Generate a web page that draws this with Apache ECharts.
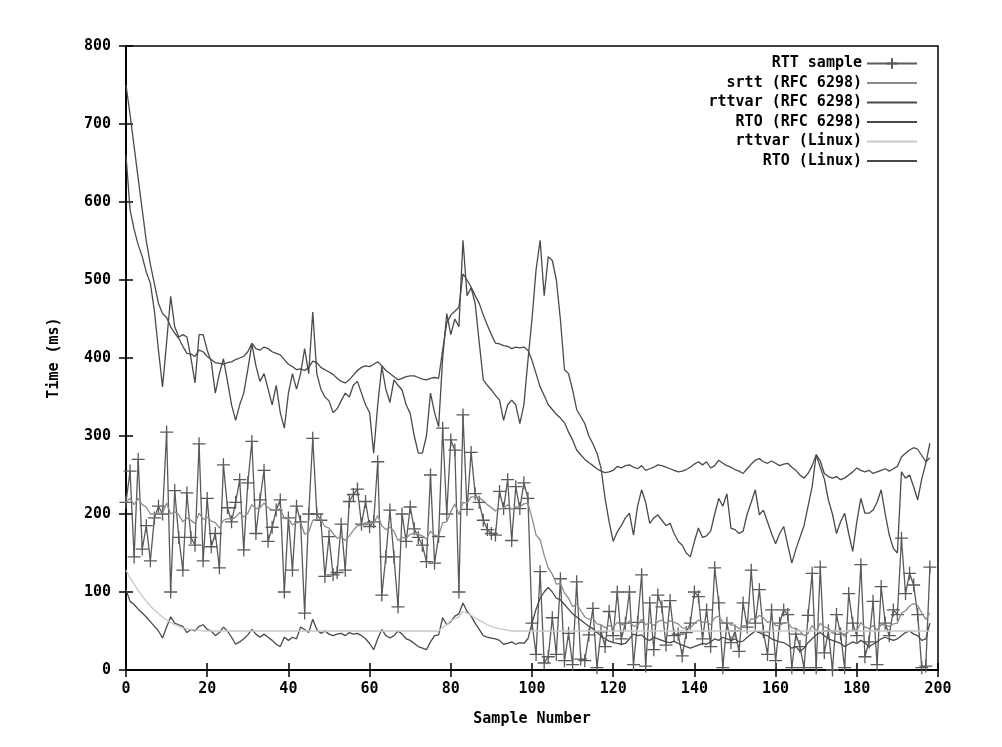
<!DOCTYPE html>
<html>
<head>
<meta charset="utf-8">
<title>RTT / RTO estimation</title>
<script src="https://cdn.jsdelivr.net/npm/echarts@6/dist/echarts.min.js"></script>
<style>
  html, body { margin: 0; padding: 0; background: #fff; }
  #chart { width: 1002px; height: 747px; }
</style>
</head>
<body>
<div id="chart"></div>
<script>
'use strict';

// tick labels
var xTicks = [0, 20, 40, 60, 80, 100, 120, 140, 160, 180, 200];
var yTicks = [0, 100, 200, 300, 400, 500, 600, 700, 800];

// series values, one per sample (index = sample number)
var rttSample = [
    215, 255, 145, 270, 155, 185, 140, 195, 210, 200,
    305, 100, 230, 170, 128, 227, 170, 160, 290, 140,
    220, 158, 175, 131, 263, 208, 190, 215, 244, 154,
    240, 293, 175, 218, 256, 165, 183, 205, 218, 100,
    195, 128, 210, 190, 73, 200, 297, 200, 192, 120,
    171, 122, 125, 187, 128, 216, 225, 232, 187, 216,
    184, 190, 267, 96, 145, 205, 145, 81, 200, 165,
    209, 181, 170, 160, 139, 250, 137, 171, 310, 200,
    295, 282, 100, 327, 206, 279, 226, 215, 192, 180,
    175, 173, 229, 207, 244, 166, 235, 207, 240, 220,
    60, 20, 126, 9, 17, 67, 20, 117, 12, 47,
    7, 113, 14, 12, 45, 79, 3, 49, 30, 75,
    44, 100, 40, 60, 100, 7, 61, 122, 5, 86,
    26, 96, 81, 32, 89, 44, 46, 18, 48, 60,
    100, 94, 40, 77, 30, 131, 86, 3, 60, 35,
    50, 24, 86, 55, 128, 60, 103, 49, 20, 77,
    12, 60, 77, 71, 3, 46, 30, 3, 70, 124,
    3, 132, 22, 50, 0, 71, 46, 3, 98, 60,
    44, 135, 17, 36, 88, 7, 107, 60, 44, 77,
    71, 169, 98, 124, 109, 71, 3, 5, 132
];

var srttRfc = [
    215, 220, 212, 220, 212, 209, 200, 200, 201, 201,
    214, 200, 203, 199, 190, 195, 192, 188, 201, 193,
    196, 191, 189, 182, 192, 194, 193, 196, 202, 196,
    201, 212, 207, 208, 214, 208, 205, 205, 207, 194,
    194, 186, 189, 189, 174, 177, 192, 193, 193, 184,
    182, 175, 169, 171, 166, 172, 179, 185, 185, 189,
    188, 188, 198, 185, 180, 183, 178, 166, 170, 169,
    174, 175, 174, 172, 168, 178, 173, 172, 189, 190,
    203, 213, 199, 215, 214, 222, 222, 221, 217, 212,
    208, 204, 207, 207, 212, 206, 209, 209, 213, 214,
    195, 173, 167, 147, 131, 123, 110, 111, 99, 92,
    81, 85, 76, 68, 65, 67, 59, 58, 54, 57,
    55, 61, 58, 58, 63, 56, 57, 65, 58, 61,
    57, 62, 64, 60, 63, 61, 59, 54, 53, 54,
    60, 64, 61, 62, 58, 67, 69, 61, 61, 58,
    57, 53, 57, 57, 66, 65, 70, 67, 61, 63,
    57, 57, 60, 61, 54, 53, 50, 44, 47, 57,
    50, 60, 55, 54, 47, 50, 49, 43, 50, 51,
    50, 61, 55, 53, 57, 51, 58, 58, 56, 59,
    60, 73, 76, 82, 85, 83, 73, 65, 73
];

var rttvarRfc = [
    103, 88, 84, 78, 73, 68, 62, 56, 50, 41,
    55, 68, 60, 58, 56, 48, 52, 50, 56, 58,
    52, 50, 44, 48, 55, 50, 42, 33, 36, 40,
    45, 52, 46, 42, 46, 42, 38, 33, 30, 42,
    38, 42, 40, 55, 52, 48, 65, 52, 47, 50,
    46, 44, 46, 47, 44, 48, 46, 47, 44, 40,
    34, 26, 40, 52, 44, 41, 44, 50, 46, 40,
    38, 34, 30, 28, 26, 36, 44, 45, 67, 58,
    62, 69, 72, 86, 75, 69, 60, 52, 44, 42,
    41, 40, 38, 33, 34, 36, 33, 35, 34, 40,
    60, 78, 92, 100, 106, 100, 92, 90, 84, 78,
    72, 68, 64, 60, 56, 53, 48, 44, 40, 37,
    35, 34, 33, 34, 40, 46, 44, 45, 40, 38,
    42, 40, 38, 36, 35, 37, 34, 32, 30, 28,
    30, 32, 34, 33, 36, 40, 38, 42, 40, 38,
    40, 36, 37, 42, 46, 50, 48, 45, 44, 40,
    38, 36, 35, 32, 28, 30, 24, 28, 35, 40,
    45, 48, 44, 40, 38, 36, 34, 30, 33, 36,
    34, 38, 35, 30, 33, 36, 40, 42, 40, 38,
    40, 44, 48, 50, 46, 44, 38, 40, 60
];

var rtoRfc = [
    660, 590, 565, 545, 530, 510, 496, 460, 410, 363,
    420, 479, 440, 427, 430, 427, 400, 368, 430, 430,
    410, 395, 355, 380, 399, 370, 340, 320, 340, 355,
    385, 418, 390, 370, 380, 360, 340, 365, 330, 310,
    355, 380, 360, 380, 412, 380, 459, 380, 360, 350,
    345, 330, 335, 345, 355, 350, 365, 370, 355, 340,
    330, 278, 340, 389, 360, 343, 372, 365, 359, 340,
    329, 300, 278, 278, 300, 355, 330, 312, 400, 457,
    430, 450, 440, 551, 480, 490, 470, 420, 372, 365,
    359, 352, 346, 320, 340, 346, 340, 316, 340, 397,
    450, 513, 551, 480, 530, 525, 500, 449, 385, 380,
    359, 334, 325, 316, 300, 290, 278, 259, 220, 190,
    165, 177, 185, 195, 201, 173, 210, 231, 215, 188,
    195, 199, 192, 185, 188, 175, 165, 160, 150, 145,
    165, 182, 170, 172, 178, 200, 220, 210, 226, 182,
    180, 175, 178, 200, 215, 231, 199, 205, 190, 175,
    162, 175, 184, 160, 137, 155, 170, 185, 210, 235,
    276, 260, 245, 218, 200, 175, 190, 201, 175, 152,
    190, 220, 201, 201, 205, 215, 231, 200, 173, 156,
    150, 254, 246, 250, 235, 218, 245, 265, 291
];

var rttvarLinux = [
    128, 118, 110, 102, 95, 88, 82, 77, 72, 68,
    64, 61, 58, 56, 54, 53, 52, 51, 51, 50,
    50, 50, 50, 50, 50, 50, 50, 50, 50, 50,
    50, 50, 50, 50, 50, 50, 50, 50, 50, 50,
    50, 50, 50, 50, 50, 50, 50, 50, 50, 50,
    50, 50, 50, 50, 50, 50, 50, 50, 50, 50,
    50, 50, 50, 50, 50, 50, 50, 50, 50, 50,
    50, 50, 50, 50, 50, 50, 50, 50, 55, 58,
    63, 66, 68, 75, 73, 70, 67, 64, 61, 58,
    56, 54, 53, 52, 51, 50, 50, 50, 50, 50,
    50, 50, 50, 50, 50, 50, 50, 50, 50, 50,
    50, 50, 50, 50, 50, 50, 50, 50, 50, 50,
    50, 50, 50, 50, 50, 50, 50, 50, 50, 50,
    50, 50, 50, 50, 50, 50, 50, 50, 50, 50,
    50, 50, 50, 50, 50, 50, 50, 50, 50, 50,
    50, 50, 50, 50, 50, 50, 50, 50, 50, 50,
    50, 50, 50, 50, 50, 50, 50, 50, 50, 50,
    50, 50, 50, 50, 50, 50, 50, 50, 50, 50,
    50, 50, 50, 50, 50, 50, 50, 50, 50, 50,
    50, 50, 50, 50, 50, 50, 50, 50, 50
];

var rtoLinux = [
    750, 712, 671, 630, 590, 550, 520, 495, 470, 457,
    452, 440, 432, 425, 415, 406, 405, 402, 410, 408,
    402, 398, 394, 393, 392, 394, 395, 398, 400, 402,
    408, 419, 412, 410, 414, 412, 408, 406, 404, 398,
    392, 389, 385, 386, 384, 388, 396, 394, 388, 385,
    382, 379, 374, 370, 368, 372, 378, 384, 388, 390,
    389, 392, 395, 390, 384, 380, 376, 372, 374, 376,
    377, 377, 375, 373, 372, 374, 375, 374, 410, 445,
    455, 460, 465, 508, 500, 491, 480, 470, 455, 442,
    430, 419, 418, 416, 415, 412, 414, 413, 414, 410,
    397, 380, 363, 352, 340, 334, 328, 323, 317, 305,
    295, 282, 276, 270, 266, 262, 258, 255, 253, 254,
    256, 261, 259, 262, 263, 260, 258, 262, 256, 258,
    260, 263, 262, 260, 258, 256, 254, 255, 257, 260,
    264, 267, 263, 267, 259, 262, 269, 265, 262, 260,
    257, 255, 252, 258, 264, 269, 271, 267, 265, 268,
    265, 262, 264, 265, 260, 256, 250, 246, 252, 262,
    276, 268, 252, 248, 246, 248, 244, 246, 250, 254,
    259, 256, 254, 256, 252, 254, 256, 258, 255, 258,
    261, 273, 278, 282, 285, 283, 275, 267, 272
];

var seriesNames = [
    'RTT sample',
    'srtt (RFC 6298)',
    'rttvar (RFC 6298)',
    'RTO (RFC 6298)',
    'rttvar (Linux)',
    'RTO (Linux)'
];
var seriesData = [rttSample, srttRfc, rttvarRfc, rtoRfc, rttvarLinux, rtoLinux];
var seriesColors = ['#5a5a5a', '#8c8c8c', '#4a4a4a', '#4a4a4a', '#c8c8c8', '#4a4a4a'];

var FONT = '"DejaVu Sans Mono", "Liberation Mono", monospace';
var labelStyle = { fontFamily: FONT, fontWeight: 'bold', fontSize: 15, color: '#000' };

function toPairs(arr) {
    return arr.map(function(v, i) { return [i, v]; });
}

var series = seriesNames.map(function(name, k) {
    var s = {
        name: name,
        type: 'line',
        data: toPairs(seriesData[k]),
        symbol: 'none',
        lineStyle: { color: seriesColors[k], width: 1.3 },
        itemStyle: { color: seriesColors[k] },
        emphasis: { disabled: true },
        z: 2 + k
    };
    if (k === 0) {
        // gnuplot style "+" point marks
        s.symbol = 'path://M5,0L5,10M0,5L10,5';
        s.symbolSize = 13;
        s.showSymbol = true;
        s.showAllSymbol = true;
        s.itemStyle = { color: seriesColors[k], borderColor: seriesColors[k], borderWidth: 1.3 };
    }
    return s;
});

// legend entries: only the RTT sample keeps its marker
var legendData = seriesNames.map(function(name, k) {
    return k === 0 ? { name: name } : { name: name, itemStyle: { opacity: 0 } };
});

var frameAxis = {
    axisLine: { show: true, lineStyle: { color: '#000', width: 1.5 } },
    axisTick: { show: true, inside: true, length: 7, lineStyle: { color: '#000', width: 1.5 } },
    splitLine: { show: false }
};

var chart = echarts.init(document.getElementById('chart'));
chart.setOption({
    animation: false,
    backgroundColor: '#fff',
    textStyle: { fontFamily: FONT },
    grid: {
        left: 126, right: 64, top: 46, bottom: 77,
        show: true, borderColor: '#000', borderWidth: 1.5, backgroundColor: 'transparent'
    },
    legend: {
        orient: 'vertical',
        right: 79,
        top: 51,
        align: 'right',
        itemWidth: 50,
        itemHeight: 13,
        itemGap: 4.5,
        selectedMode: false,
        textStyle: labelStyle,
        data: legendData
    },
    xAxis: [Object.assign({
        type: 'value',
        min: 0, max: 200, interval: 20,
        name: 'Sample Number',
        nameLocation: 'middle',
        nameGap: 42,
        nameTextStyle: labelStyle,
        axisLabel: Object.assign({
            margin: 12,
            formatter: function(v) { return xTicks.indexOf(v) >= 0 ? String(v) : ''; }
        }, labelStyle)
    }, frameAxis), Object.assign({
        type: 'value',
        position: 'top',
        min: 0, max: 200, interval: 20,
        axisLabel: { show: false }
    }, frameAxis)],
    yAxis: [Object.assign({
        type: 'value',
        min: 0, max: 800, interval: 100,
        name: 'Time (ms)',
        nameLocation: 'middle',
        nameGap: 64,
        nameTextStyle: labelStyle,
        axisLabel: Object.assign({
            margin: 15,
            formatter: function(v) { return yTicks.indexOf(v) >= 0 ? String(v) : ''; }
        }, labelStyle)
    }, frameAxis), Object.assign({
        type: 'value',
        position: 'right',
        min: 0, max: 800, interval: 100,
        axisLabel: { show: false }
    }, frameAxis)],
    series: series
});
</script>
</body>
</html>
